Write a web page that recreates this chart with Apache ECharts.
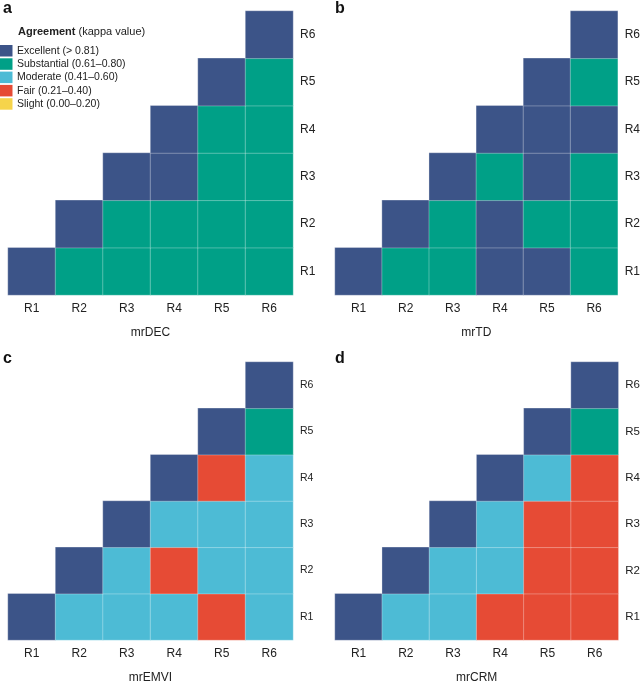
<!DOCTYPE html>
<html>
<head>
<meta charset="utf-8">
<script src="https://cdn.jsdelivr.net/npm/echarts@6/dist/echarts.min.js"></script>
<style>html,body{margin:0;padding:0;background:#fff}#c{width:643px;height:685px}</style>
</head>
<body>
<div id="c"></div>
<script>
// Categories
const readers = ['R1', 'R2', 'R3', 'R4', 'R5', 'R6'];
const panelNames = ['mrDEC', 'mrTD', 'mrEMVI', 'mrCRM'];
const panelLetters = ['a', 'b', 'c', 'd'];
// Agreement levels: 4 Excellent, 3 Substantial, 2 Moderate, 1 Fair, 0 Slight
const levelLabels = ['Slight (0.00\u20130.20)', 'Fair (0.21\u20130.40)', 'Moderate (0.41\u20130.60)', 'Substantial (0.61\u20130.80)', 'Excellent (> 0.81)'];
const levelColors = ['#F6D44B', '#E64B35', '#4DBBD5', '#00A087', '#3C5488'];
// Rows R1..R6 (bottom to top), columns R1..R6; null = no cell
const mrDEC = [
  [4, 3, 3, 3, 3, 3],
  [null, 4, 3, 3, 3, 3],
  [null, null, 4, 4, 3, 3],
  [null, null, null, 4, 3, 3],
  [null, null, null, null, 4, 3],
  [null, null, null, null, null, 4]
];
const mrTD = [
  [4, 3, 3, 4, 4, 3],
  [null, 4, 3, 4, 3, 3],
  [null, null, 4, 3, 4, 3],
  [null, null, null, 4, 4, 4],
  [null, null, null, null, 4, 3],
  [null, null, null, null, null, 4]
];
const mrEMVI = [
  [4, 2, 2, 2, 1, 2],
  [null, 4, 2, 1, 2, 2],
  [null, null, 4, 2, 2, 2],
  [null, null, null, 4, 1, 2],
  [null, null, null, null, 4, 3],
  [null, null, null, null, null, 4]
];
const mrCRM = [
  [4, 2, 2, 1, 1, 1],
  [null, 4, 2, 2, 1, 1],
  [null, null, 4, 2, 1, 1],
  [null, null, null, 4, 2, 1],
  [null, null, null, null, 4, 3],
  [null, null, null, null, null, 4]
];
const panels = [mrDEC, mrTD, mrEMVI, mrCRM];

const grids = [
  {left: 8, top: 11, width: 285, height: 284},
  {left: 335, top: 11, width: 285, height: 284},
  {left: 8, top: 362, width: 285, height: 284},
  {left: 335, top: 362, width: 285, height: 284}
];
const yFont = [12, 12, 10.5, 11.5];
const FONT = 'Liberation Sans, Arial, Helvetica, sans-serif';
const TXT = '#222';

function toData(m) {
  const out = [];
  m.forEach((row, yi) => row.forEach((v, xi) => { if (v !== null) out.push([xi, yi, v]); }));
  return out;
}

const option = {
  animation: false,
  backgroundColor: '#fff',
  textStyle: {fontFamily: FONT},
  grid: grids,
  xAxis: grids.map((g, i) => ({
    type: 'category', gridIndex: i, data: readers,
    name: panelNames[i], nameLocation: 'middle', nameGap: 32,
    nameTextStyle: {fontSize: 12, color: TXT, fontFamily: FONT},
    axisLine: {show: false}, axisTick: {show: false}, splitLine: {show: false},
    axisLabel: {fontSize: 12, color: TXT, margin: 8, fontFamily: FONT}
  })),
  yAxis: grids.map((g, i) => ({
    type: 'category', gridIndex: i, data: readers, position: 'right',
    axisLine: {show: false}, axisTick: {show: false}, splitLine: {show: false},
    axisLabel: {fontSize: yFont[i], color: TXT, margin: 7, fontFamily: FONT}
  })),
  visualMap: {
    type: 'piecewise', seriesIndex: [0, 1, 2, 3], dimension: 2,
    pieces: levelLabels.map((l, i) => ({value: i, label: l, color: levelColors[i]})),
    left: 0, top: 45, padding: 0, itemWidth: 12.5, itemHeight: 11.5, itemGap: 1.8, itemSymbol: 'rect',
    textGap: 4.5, orient: 'vertical', hoverLink: false, selectedMode: false,
    textStyle: {fontSize: 10.5, color: TXT, fontFamily: FONT}
  },
  graphic: [
    {type: 'text', left: 18, top: 26, style: {
      text: '{b|Agreement} (kappa value)',
      rich: {b: {fontWeight: 'bold', fontSize: 11, fill: TXT, fontFamily: FONT}},
      fontSize: 11, fill: TXT, fontFamily: FONT}}
  ].concat(panelLetters.map((l, i) => ({
    type: 'text', left: i % 2 === 0 ? 3 : 335, top: i < 2 ? 1 : 351,
    style: {text: l, fontSize: 16, fontWeight: 'bold', fill: '#111', fontFamily: FONT}
  }))),
  series: panels.map((m, i) => ({
    type: 'heatmap', xAxisIndex: i, yAxisIndex: i, data: toData(m),
    itemStyle: {borderColor: 'rgba(255,255,255,0.3)', borderWidth: 1},
    emphasis: {disabled: true}
  }))
};
const chart = echarts.init(document.getElementById('c'), null, {renderer: 'canvas'});
chart.setOption(option);
</script>
</body>
</html>
